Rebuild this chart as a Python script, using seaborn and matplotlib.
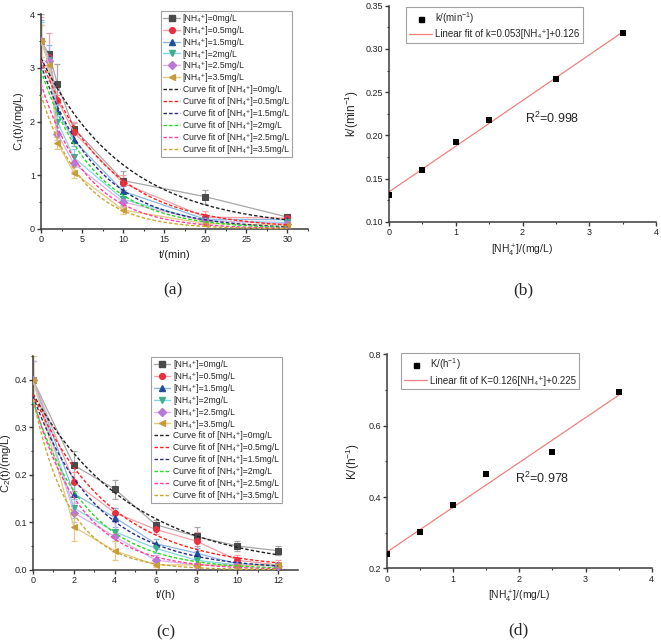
import numpy as np
import pandas as pd
import matplotlib
matplotlib.use('Agg')
import matplotlib.pyplot as plt
import seaborn as sns
from matplotlib.lines import Line2D
from matplotlib.ticker import MultipleLocator, FormatStrFormatter

sns.set_theme(style='ticks')
plt.rcParams['font.family'] = ['Liberation Sans', 'DejaVu Sans']
plt.rcParams['mathtext.fontset'] = 'custom'
plt.rcParams['mathtext.rm'] = 'Liberation Sans'
plt.rcParams['mathtext.it'] = 'Liberation Sans:italic'
plt.rcParams['mathtext.default'] = 'regular'

# ---------------- data ----------------
levels = ['0', '0.5', '1.5', '2', '2.5', '3.5']

# panel (a): C1(t), t in min
t_a = [0, 1, 2, 4, 10, 20, 30]
c1_00 = [3.50, 3.25, 2.70, 1.87, 0.90, 0.60, 0.22]
c1_05 = [3.50, 3.20, 2.40, 1.80, 0.85, 0.22, 0.20]
c1_15 = [3.50, 3.18, 2.20, 1.65, 0.70, 0.18, 0.17]
c1_20 = [3.50, 3.15, 2.00, 1.33, 0.55, 0.15, 0.12]
c1_25 = [3.50, 3.12, 1.77, 1.22, 0.50, 0.15, 0.10]
c1_35 = [3.50, 3.05, 1.60, 1.05, 0.35, 0.10, 0.07]
e1_00 = [0.50, 0.05, 0.37, 0.10, 0.18, 0.13, 0.06]
e1_05 = [0.45, 0.45, 0.10, 0.20, 0.15, 0.12, 0.05]
e1_15 = [0.40, 0.25, 0.10, 0.10, 0.10, 0.05, 0.05]
e1_20 = [0.35, 0.15, 0.10, 0.15, 0.10, 0.05, 0.05]
e1_25 = [0.30, 0.10, 0.12, 0.15, 0.10, 0.05, 0.05]
e1_35 = [0.30, 0.10, 0.12, 0.10, 0.08, 0.05, 0.05]
# fitted first-order decay parameters
fit1_c0 = [3.18, 3.15, 3.05, 2.95, 2.70, 2.50]
fit1_k = [0.098, 0.125, 0.145, 0.155, 0.178, 0.200]

# panel (c): C2(t), t in h
t_c = [0, 2, 4, 6, 8, 10, 12]
c2_00 = [0.40, 0.220, 0.170, 0.095, 0.070, 0.050, 0.040]
c2_05 = [0.40, 0.185, 0.120, 0.085, 0.060, 0.020, 0.010]
c2_15 = [0.40, 0.160, 0.110, 0.055, 0.035, 0.012, 0.010]
c2_20 = [0.40, 0.130, 0.080, 0.045, 0.020, 0.010, 0.008]
c2_25 = [0.40, 0.120, 0.070, 0.020, 0.010, 0.010, 0.008]
c2_35 = [0.40, 0.090, 0.040, 0.010, 0.010, 0.008, 0.010]
e2_00 = [0.05, 0.030, 0.020, 0.010, 0.020, 0.010, 0.010]
e2_05 = [0.04, 0.020, 0.010, 0.010, 0.020, 0.010, 0.010]
e2_15 = [0.04, 0.020, 0.020, 0.010, 0.010, 0.005, 0.005]
e2_20 = [0.04, 0.020, 0.020, 0.010, 0.010, 0.005, 0.005]
e2_25 = [0.04, 0.020, 0.030, 0.010, 0.010, 0.005, 0.005]
e2_35 = [0.05, 0.030, 0.020, 0.005, 0.005, 0.005, 0.005]
fit2_c0 = [0.370, 0.370, 0.365, 0.355, 0.360, 0.360]
fit2_k = [0.206, 0.270, 0.320, 0.380, 0.430, 0.560]

# panel (b) and (d)
nh4 = [0, 0.5, 1, 1.5, 2.5, 3.5]
k_min = [0.1305, 0.160, 0.192, 0.218, 0.265, 0.318]
K_h = [0.239, 0.303, 0.378, 0.4636, 0.527, 0.695]

# ---------------- styles ----------------
markers = ['s', 'o', '^', 'v', 'D', '<']
mk_colors = ['#4a4a4a', '#e8303f', '#1f4e9c', '#3cb08c', '#b878d8', '#c89a3c']
ln_colors = ['#a8a8a8', '#f4a0a8', '#8cb8e0', '#88d4e4', '#e0b0e8', '#e8c880']
fit_colors = ['#222222', '#ff2020', '#2a2a80', '#22dd22', '#ff40a0', '#c8a830']
mk_sizes = [3.8, 4.2, 4.3, 4.3, 3.8, 4.3]
NH = '[NH\u2084\u207a]'

def nh_label(v):
    return NH + '=' + v + 'mg/L'

def style_axes(ax, xmaj, xmin, ymaj, ymin):
    sns.despine(ax=ax)
    for s in ['left', 'bottom']:
        ax.spines[s].set_color('#3a3a3a')
        ax.spines[s].set_linewidth(1.1)
    ax.xaxis.set_major_locator(MultipleLocator(xmaj))
    ax.xaxis.set_minor_locator(MultipleLocator(xmin))
    ax.yaxis.set_major_locator(MultipleLocator(ymaj))
    ax.yaxis.set_minor_locator(MultipleLocator(ymin))
    ax.tick_params(which='major', direction='out', length=2.8, width=1, colors='#3a3a3a',
                   labelsize=6.5, labelcolor='#222222', pad=1.6)
    ax.tick_params(which='minor', direction='out', length=1.6, width=0.8, colors='#3a3a3a')
    ax.set_facecolor('white')

fig = plt.figure(figsize=(6.61, 6.43), dpi=100)
fig.patch.set_facecolor('white')

def decay_panel(ax, t, series, errs, c0s, ks, tmax):
    tt = np.linspace(0, tmax, 300)
    for i, (vals, err) in enumerate(zip(series, errs)):
        ax.errorbar(t, vals, yerr=err, fmt='none', ecolor=ln_colors[i], elinewidth=0.9,
                    capsize=2, capthick=0.9, zorder=2)
        sns.lineplot(x=t, y=vals, ax=ax, color=ln_colors[i], lw=0.9, marker=markers[i],
                     markersize=mk_sizes[i], markerfacecolor=mk_colors[i],
                     markeredgecolor=mk_colors[i], legend=False, zorder=3)
    for i in range(len(c0s)):
        fit_vals = c0s[i] * np.exp(-ks[i] * tt)
        sns.lineplot(x=tt, y=fit_vals, ax=ax, color=fit_colors[i], lw=1.0,
                     linestyle=(0, (2.5, 1.5)), legend=False, zorder=4)
    handles = []
    for i in range(6):
        handles.append(Line2D([], [], color=ln_colors[i], lw=1.0, marker=markers[i],
                              markersize=mk_sizes[i], markerfacecolor=mk_colors[i],
                              markeredgecolor=mk_colors[i]))
    for i in range(6):
        handles.append(Line2D([], [], color=fit_colors[i], lw=1.0, linestyle=(0, (2.5, 1.5))))
    labels = [nh_label(v) for v in levels] + ['Curve fit of ' + nh_label(v) for v in levels]
    return handles, labels

def legend_box(ax, handles, labels, anchor):
    leg = ax.legend(handles, labels, loc='upper left', bbox_to_anchor=anchor, borderaxespad=0,
                    fontsize=6.2, frameon=True, fancybox=False, edgecolor='#8a8a8a',
                    handlelength=1.9, handletextpad=0.35, labelspacing=0.34, borderpad=0.3)
    leg.get_frame().set_linewidth(0.8)
    return leg

# ---- panel (a)
ax_a = fig.add_axes([0.062, 0.644, 0.404, 0.334])
h, l = decay_panel(ax_a, t_a, [c1_00, c1_05, c1_15, c1_20, c1_25, c1_35],
                   [e1_00, e1_05, e1_15, e1_20, e1_25, e1_35], fit1_c0, fit1_k, 30)
ax_a.set_xlim(0, 32.5)
ax_a.set_ylim(0, 4)
style_axes(ax_a, 5, 2.5, 1, 0.5)
ax_a.set_xlabel('t/(min)', fontsize=8, labelpad=4)
ax_a.set_ylabel('C$_1$(t)/(mg/L)', fontsize=8)
ax_a.yaxis.set_label_coords(-0.055, 0.5)
legend_box(ax_a, h, l, (0.449, 1.014))

# ---- panel (c)
ax_c = fig.add_axes([0.050, 0.114, 0.401, 0.332])
h, l = decay_panel(ax_c, t_c, [c2_00, c2_05, c2_15, c2_20, c2_25, c2_35],
                   [e2_00, e2_05, e2_15, e2_20, e2_25, e2_35], fit2_c0, fit2_k, 12)
ax_c.set_xlim(0, 12.97)
ax_c.set_ylim(0, 0.45)
style_axes(ax_c, 2, 1, 0.1, 0.05)
ax_c.yaxis.set_major_formatter(FormatStrFormatter('%.1f'))
ax_c.set_xlabel('t/(h)', fontsize=8, labelpad=4)
ax_c.set_ylabel('C$_2$(t)/(mg/L)', fontsize=8)
ax_c.yaxis.set_label_coords(-0.077, 0.5)
legend_box(ax_c, h, l, (0.445, 0.995))

# ---- linear panels
def linear_panel(ax, x, y, name, fit_label, r2_text, r2_pos, anchor):
    coef = np.polyfit(x, y, 1)
    xx = np.array([min(x), max(x)])
    sns.lineplot(x=xx, y=np.polyval(coef, xx), ax=ax, color='#f08080', lw=0.9,
                 legend=False, zorder=2)
    sns.scatterplot(x=x, y=y, ax=ax, color='black', marker='s', s=13, edgecolor='black',
                    linewidth=0, legend=False, zorder=3)
    handles = [Line2D([], [], color='black', marker='s', markersize=3.6, lw=0),
               Line2D([], [], color='#f08080', lw=0.9)]
    leg = ax.legend(handles, [name, fit_label], loc='upper left', bbox_to_anchor=anchor,
                    borderaxespad=0, fontsize=7, frameon=True, fancybox=False,
                    edgecolor='#8a8a8a', handlelength=2.3, handletextpad=0.3,
                    labelspacing=0.35, borderpad=0.35)
    leg.get_frame().set_linewidth(0.8)
    ax.text(r2_pos[0], r2_pos[1], r2_text, fontsize=9, ha='left', va='center')
    return leg

ax_b = fig.add_axes([0.5885, 0.655, 0.404, 0.336])
linear_panel(ax_b, nh4, k_min, 'k/(min$^{-1}$)',
             'Linear fit of k=0.053' + NH + '+0.126', 'R$^2$=0.998', (2.03, 0.22),
             (0.064, 0.995))
ax_b.set_xlim(0, 4)
ax_b.set_ylim(0.10, 0.35)
style_axes(ax_b, 1, 0.5, 0.05, 0.025)
ax_b.yaxis.set_major_formatter(FormatStrFormatter('%.2f'))
ax_b.set_xlabel('[NH$_4^+$]/(mg/L)', fontsize=7.5, labelpad=4)
ax_b.set_ylabel('k/(min$^{-1}$)', fontsize=8.5)
ax_b.yaxis.set_label_coords(-0.105, 0.5)

ax_d = fig.add_axes([0.5855, 0.116, 0.4005, 0.333])
linear_panel(ax_d, nh4, K_h, 'K/(h$^{-1}$)',
             'Linear fit of K=0.126' + NH + '+0.225', 'R$^2$=0.978', (1.93, 0.453),
             (0.053, 1.006))
ax_d.set_xlim(0, 4)
ax_d.set_ylim(0.2, 0.8)
style_axes(ax_d, 1, 0.5, 0.2, 0.1)
ax_d.yaxis.set_major_formatter(FormatStrFormatter('%.1f'))
ax_d.set_xlabel('[NH$_4^+$]/(mg/L)', fontsize=7.5, labelpad=4)
ax_d.set_ylabel('K/(h$^{-1}$)', fontsize=8.5)
ax_d.yaxis.set_label_coords(-0.094, 0.5)

# panel letters
for txt, x, y in [('(a)', 173, 290), ('(b)', 523, 290), ('(c)', 166, 632), ('(d)', 518, 630)]:
    fig.text(x / 661, 1 - y / 643, txt, fontsize=12.5, ha='center', va='center',
             family=['Liberation Serif', 'DejaVu Serif'])

fig.savefig('out.png', dpi=100, facecolor='white')
